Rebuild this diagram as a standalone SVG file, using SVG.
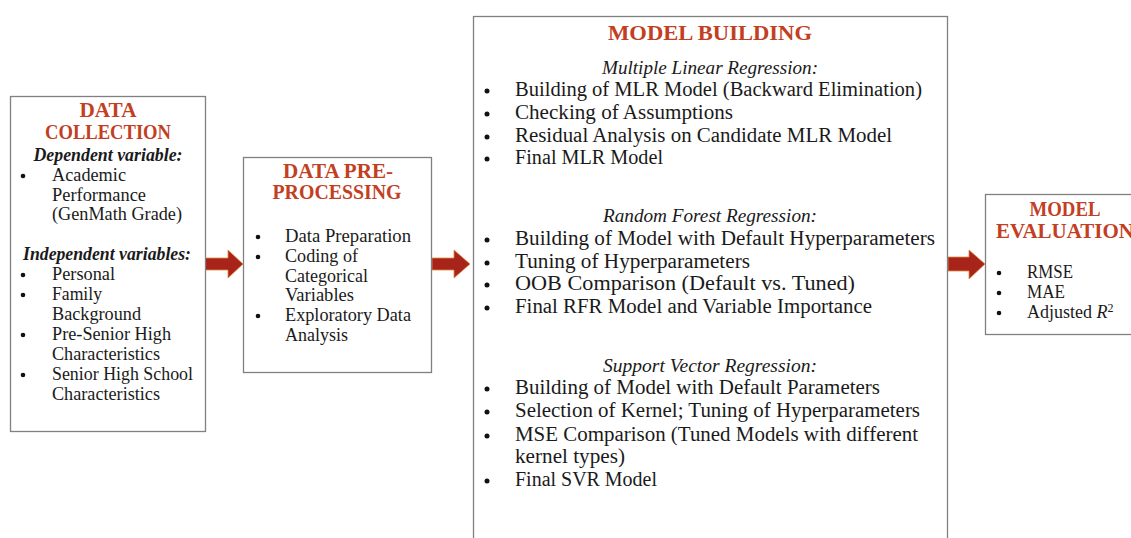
<svg xmlns="http://www.w3.org/2000/svg" width="1131" height="538" viewBox="0 0 1131 538">
<defs>
<style>
text{font-family:"Liberation Serif","Times New Roman",serif;fill:#1a1a1a}
.box{fill:#fff;stroke:#808080;stroke-width:1.3}
.t{fill:#c2401f;font-weight:bold;font-size:20px;text-anchor:middle}
.h{font-style:italic;font-size:19px;text-anchor:middle}
.hb{font-style:italic;font-weight:bold;font-size:18px}
.b{font-size:20px}
.s{font-size:18px}
.arr{fill:#a8231a;stroke:#e08a3c;stroke-width:0.8}
.dot{fill:#111}
</style>
</defs>
<g id="connectors">
<path class="arr" d="M205,258 H228 V250 L243,264 L228,278 V270 H205 Z"/>
<path class="arr" d="M432,258 H454 V250 L470,264 L454,278 V270 H432 Z"/>
<path class="arr" d="M948,257 H969 V250 L985,264 L969,279 V271 H948 Z"/>
</g>
<g id="data-collection">
<rect class="box" x="10.5" y="96.5" width="195" height="335"/>
<text class="t" x="108" y="117" textLength="57" lengthAdjust="spacingAndGlyphs">DATA</text>
<text class="t" x="108" y="139" textLength="126" lengthAdjust="spacingAndGlyphs">COLLECTION</text>
<text class="hb" x="108" y="161" text-anchor="middle" textLength="149" lengthAdjust="spacingAndGlyphs">Dependent variable:</text>
<circle class="dot" cx="23" cy="176" r="2.3"/>
<text class="s" x="52" y="181" textLength="74" lengthAdjust="spacingAndGlyphs">Academic</text>
<text class="s" x="52" y="201" textLength="94" lengthAdjust="spacingAndGlyphs">Performance</text>
<text class="s" x="52" y="220" textLength="130" lengthAdjust="spacingAndGlyphs">(GenMath Grade)</text>
<text class="hb" x="23" y="260" textLength="168" lengthAdjust="spacingAndGlyphs">Independent variables:</text>
<circle class="dot" cx="23" cy="275" r="2.3"/>
<text class="s" x="52" y="280" textLength="63" lengthAdjust="spacingAndGlyphs">Personal</text>
<circle class="dot" cx="23" cy="295" r="2.3"/>
<text class="s" x="52" y="300" textLength="50" lengthAdjust="spacingAndGlyphs">Family</text>
<text class="s" x="52" y="320" textLength="89" lengthAdjust="spacingAndGlyphs">Background</text>
<circle class="dot" cx="23" cy="335" r="2.3"/>
<text class="s" x="52" y="340" textLength="119" lengthAdjust="spacingAndGlyphs">Pre-Senior High</text>
<text class="s" x="52" y="360" textLength="108" lengthAdjust="spacingAndGlyphs">Characteristics</text>
<circle class="dot" cx="23" cy="375" r="2.3"/>
<text class="s" x="52" y="380" textLength="141" lengthAdjust="spacingAndGlyphs">Senior High School</text>
<text class="s" x="52" y="400" textLength="108" lengthAdjust="spacingAndGlyphs">Characteristics</text>
</g>
<g id="data-preprocessing">
<rect class="box" x="243.5" y="157.5" width="188" height="215"/>
<text class="t" x="338" y="178" textLength="110" lengthAdjust="spacingAndGlyphs">DATA PRE-</text>
<text class="t" x="337" y="199" textLength="129" lengthAdjust="spacingAndGlyphs">PROCESSING</text>
<circle class="dot" cx="258" cy="237" r="2.3"/>
<text class="s" x="285" y="242" textLength="126" lengthAdjust="spacingAndGlyphs">Data Preparation</text>
<circle class="dot" cx="258" cy="257" r="2.3"/>
<text class="s" x="285" y="262" textLength="73" lengthAdjust="spacingAndGlyphs">Coding of</text>
<text class="s" x="285" y="282" textLength="83" lengthAdjust="spacingAndGlyphs">Categorical</text>
<text class="s" x="285" y="301" textLength="69" lengthAdjust="spacingAndGlyphs">Variables</text>
<circle class="dot" cx="258" cy="316" r="2.3"/>
<text class="s" x="285" y="321" textLength="126" lengthAdjust="spacingAndGlyphs">Exploratory Data</text>
<text class="s" x="285" y="341" textLength="63" lengthAdjust="spacingAndGlyphs">Analysis</text>
</g>
<g id="model-building">
<rect class="box" x="473.5" y="16.5" width="474" height="530"/>
<text class="t" x="710" y="40" textLength="204" lengthAdjust="spacingAndGlyphs">MODEL BUILDING</text>
<text class="h" x="710" y="74" textLength="216" lengthAdjust="spacingAndGlyphs">Multiple Linear Regression:</text>
<circle class="dot" cx="487" cy="91" r="2.5"/>
<text class="b" x="515" y="96" textLength="407" lengthAdjust="spacingAndGlyphs">Building of MLR Model (Backward Elimination)</text>
<circle class="dot" cx="487" cy="114" r="2.5"/>
<text class="b" x="515" y="119" textLength="218" lengthAdjust="spacingAndGlyphs">Checking of Assumptions</text>
<circle class="dot" cx="487" cy="137" r="2.5"/>
<text class="b" x="515" y="142" textLength="377" lengthAdjust="spacingAndGlyphs">Residual Analysis on Candidate MLR Model</text>
<circle class="dot" cx="487" cy="159" r="2.5"/>
<text class="b" x="515" y="164" textLength="148" lengthAdjust="spacingAndGlyphs">Final MLR Model</text>
<text class="h" x="710" y="222" textLength="214" lengthAdjust="spacingAndGlyphs">Random Forest Regression:</text>
<circle class="dot" cx="487" cy="240" r="2.5"/>
<text class="b" x="515" y="245" textLength="420" lengthAdjust="spacingAndGlyphs">Building of Model with Default Hyperparameters</text>
<circle class="dot" cx="487" cy="263" r="2.5"/>
<text class="b" x="515" y="268" textLength="235" lengthAdjust="spacingAndGlyphs">Tuning of Hyperparameters</text>
<circle class="dot" cx="487" cy="285" r="2.5"/>
<text class="b" x="515" y="290" textLength="340" lengthAdjust="spacingAndGlyphs">OOB Comparison (Default vs. Tuned)</text>
<circle class="dot" cx="487" cy="308" r="2.5"/>
<text class="b" x="515" y="313" textLength="357" lengthAdjust="spacingAndGlyphs">Final RFR Model and Variable Importance</text>
<text class="h" x="710" y="372" textLength="214" lengthAdjust="spacingAndGlyphs">Support Vector Regression:</text>
<circle class="dot" cx="487" cy="389" r="2.5"/>
<text class="b" x="515" y="394" textLength="365" lengthAdjust="spacingAndGlyphs">Building of Model with Default Parameters</text>
<circle class="dot" cx="487" cy="412" r="2.5"/>
<text class="b" x="515" y="417" textLength="405" lengthAdjust="spacingAndGlyphs">Selection of Kernel; Tuning of Hyperparameters</text>
<circle class="dot" cx="487" cy="436" r="2.5"/>
<text class="b" x="515" y="441" textLength="403" lengthAdjust="spacingAndGlyphs">MSE Comparison (Tuned Models with different</text>
<text class="b" x="515" y="463" textLength="110" lengthAdjust="spacingAndGlyphs">kernel types)</text>
<circle class="dot" cx="487" cy="481" r="2.5"/>
<text class="b" x="515" y="486" textLength="142" lengthAdjust="spacingAndGlyphs">Final SVR Model</text>
</g>
<g id="model-evaluation">
<rect class="box" x="985.5" y="194.5" width="160" height="140"/>
<text class="t" x="1065" y="216" textLength="71" lengthAdjust="spacingAndGlyphs">MODEL</text>
<text class="t" x="1065" y="238" textLength="138" lengthAdjust="spacingAndGlyphs">EVALUATION</text>
<circle class="dot" cx="999" cy="273" r="2.3"/>
<text class="s" x="1027" y="278" textLength="46" lengthAdjust="spacingAndGlyphs">RMSE</text>
<circle class="dot" cx="999" cy="293" r="2.3"/>
<text class="s" x="1027" y="298" textLength="38" lengthAdjust="spacingAndGlyphs">MAE</text>
<circle class="dot" cx="999" cy="313" r="2.3"/>
<text class="s" x="1027" y="318">Adjusted <tspan font-style="italic">R</tspan><tspan font-size="12" dy="-6">2</tspan></text>
</g>
</svg>
